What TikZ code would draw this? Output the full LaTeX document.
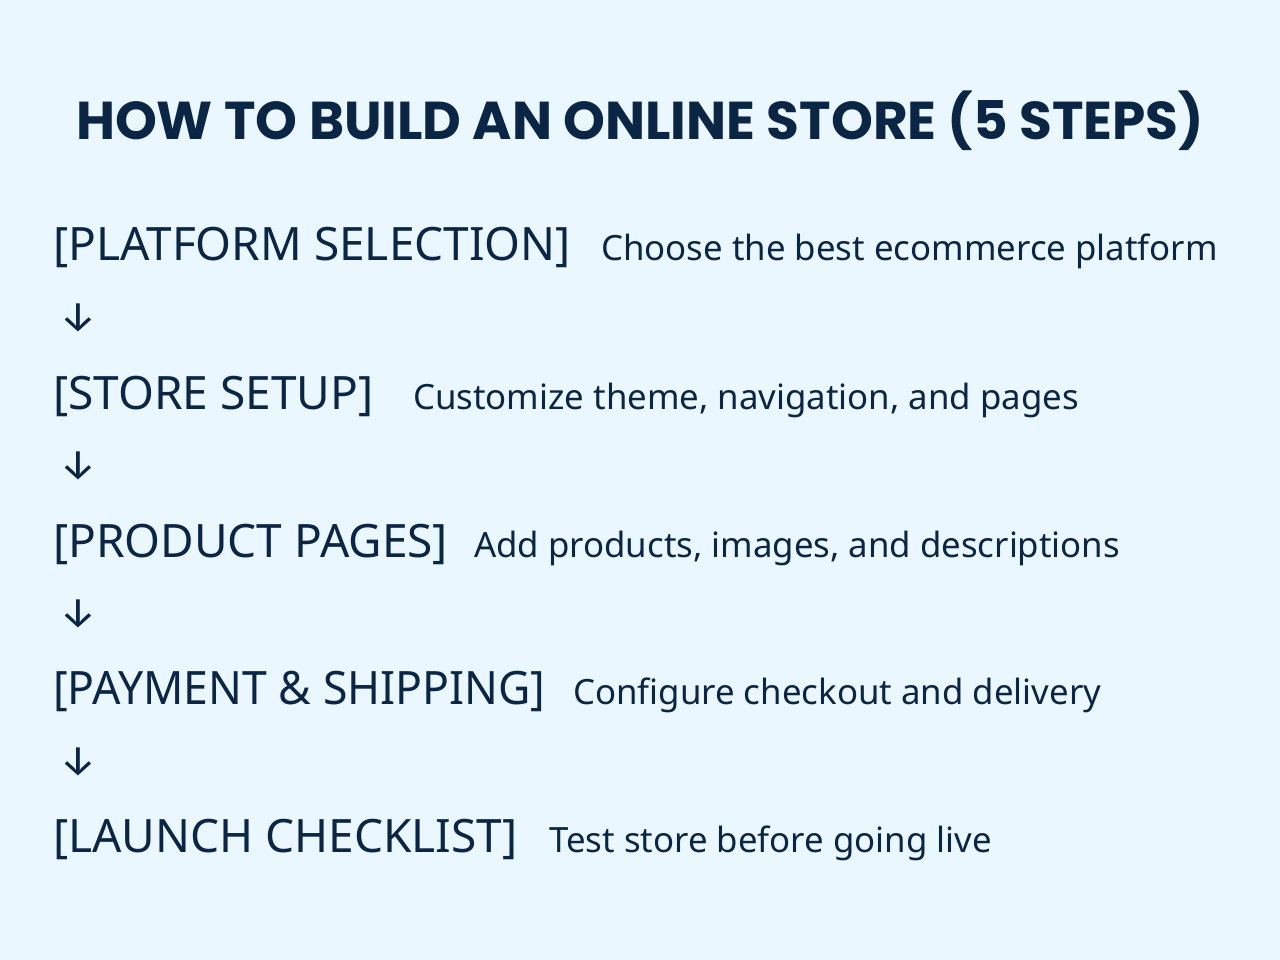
\documentclass[tikz,border=0pt]{standalone}
\usepackage{fontspec}
\setmainfont{Noto Sans}
\newfontfamily\titlefont{Poppins}[UprightFont=* Bold]
\newfontfamily\arrowfont{Fira Sans}
\definecolor{bgc}{HTML}{EAF7FE}
\definecolor{ink}{HTML}{0B2545}
\tikzset{
  stepname/.style={anchor=base west, inner sep=0pt, text=ink, font=\fontsize{46}{50}\selectfont},
  stepdesc/.style={anchor=base west, inner sep=0pt, text=ink, font=\fontsize{34.8}{40}\selectfont},
  downarrow/.style={anchor=center, inner sep=0pt, text=ink, font=\arrowfont\fontsize{42}{48}\selectfont},
  titletext/.style={anchor=base, inner sep=0pt, text=ink, font=\titlefont\fontsize{53.3}{60}\selectfont}
}
\begin{document}
\begin{tikzpicture}[x=1pt,y=1pt]
\fill[bgc] (0,0) rectangle (1280,-960);
\useasboundingbox (0,0) rectangle (1280,-960);
\node[titletext] (title) at (640,-140) {HOW TO BUILD AN ONLINE STORE (5 STEPS)};
\node[stepname] (s1) at (53,-261) {[PLATFORM SELECTION]};
\node[stepdesc] (d1) at (601,-261) {Choose the best ecommerce platform};
\node[downarrow] (a1) at (78,-318) {↓};
\node[stepname] (s2) at (53,-409) {[STORE SETUP]};
\node[stepdesc] (d2) at (413,-409) {Customize theme, navigation, and pages};
\node[downarrow] (a2) at (78,-466) {↓};
\node[stepname] (s3) at (53,-557) {[PRODUCT PAGES]};
\node[stepdesc] (d3) at (474,-557) {Add products, images, and descriptions};
\node[downarrow] (a3) at (78,-614) {↓};
\node[stepname] (s4) at (53,-704) {\scalebox{0.968}[1]{[PAYMENT \& SHIPPING]}};
\node[stepdesc] (d4) at (573,-704) {Configure checkout and delivery};
\node[downarrow] (a4) at (78,-762) {↓};
\node[stepname] (s5) at (53,-852) {[LAUNCH CHECKLIST]};
\node[stepdesc] (d5) at (549,-852) {Test store before going live};
\end{tikzpicture}
\end{document}
